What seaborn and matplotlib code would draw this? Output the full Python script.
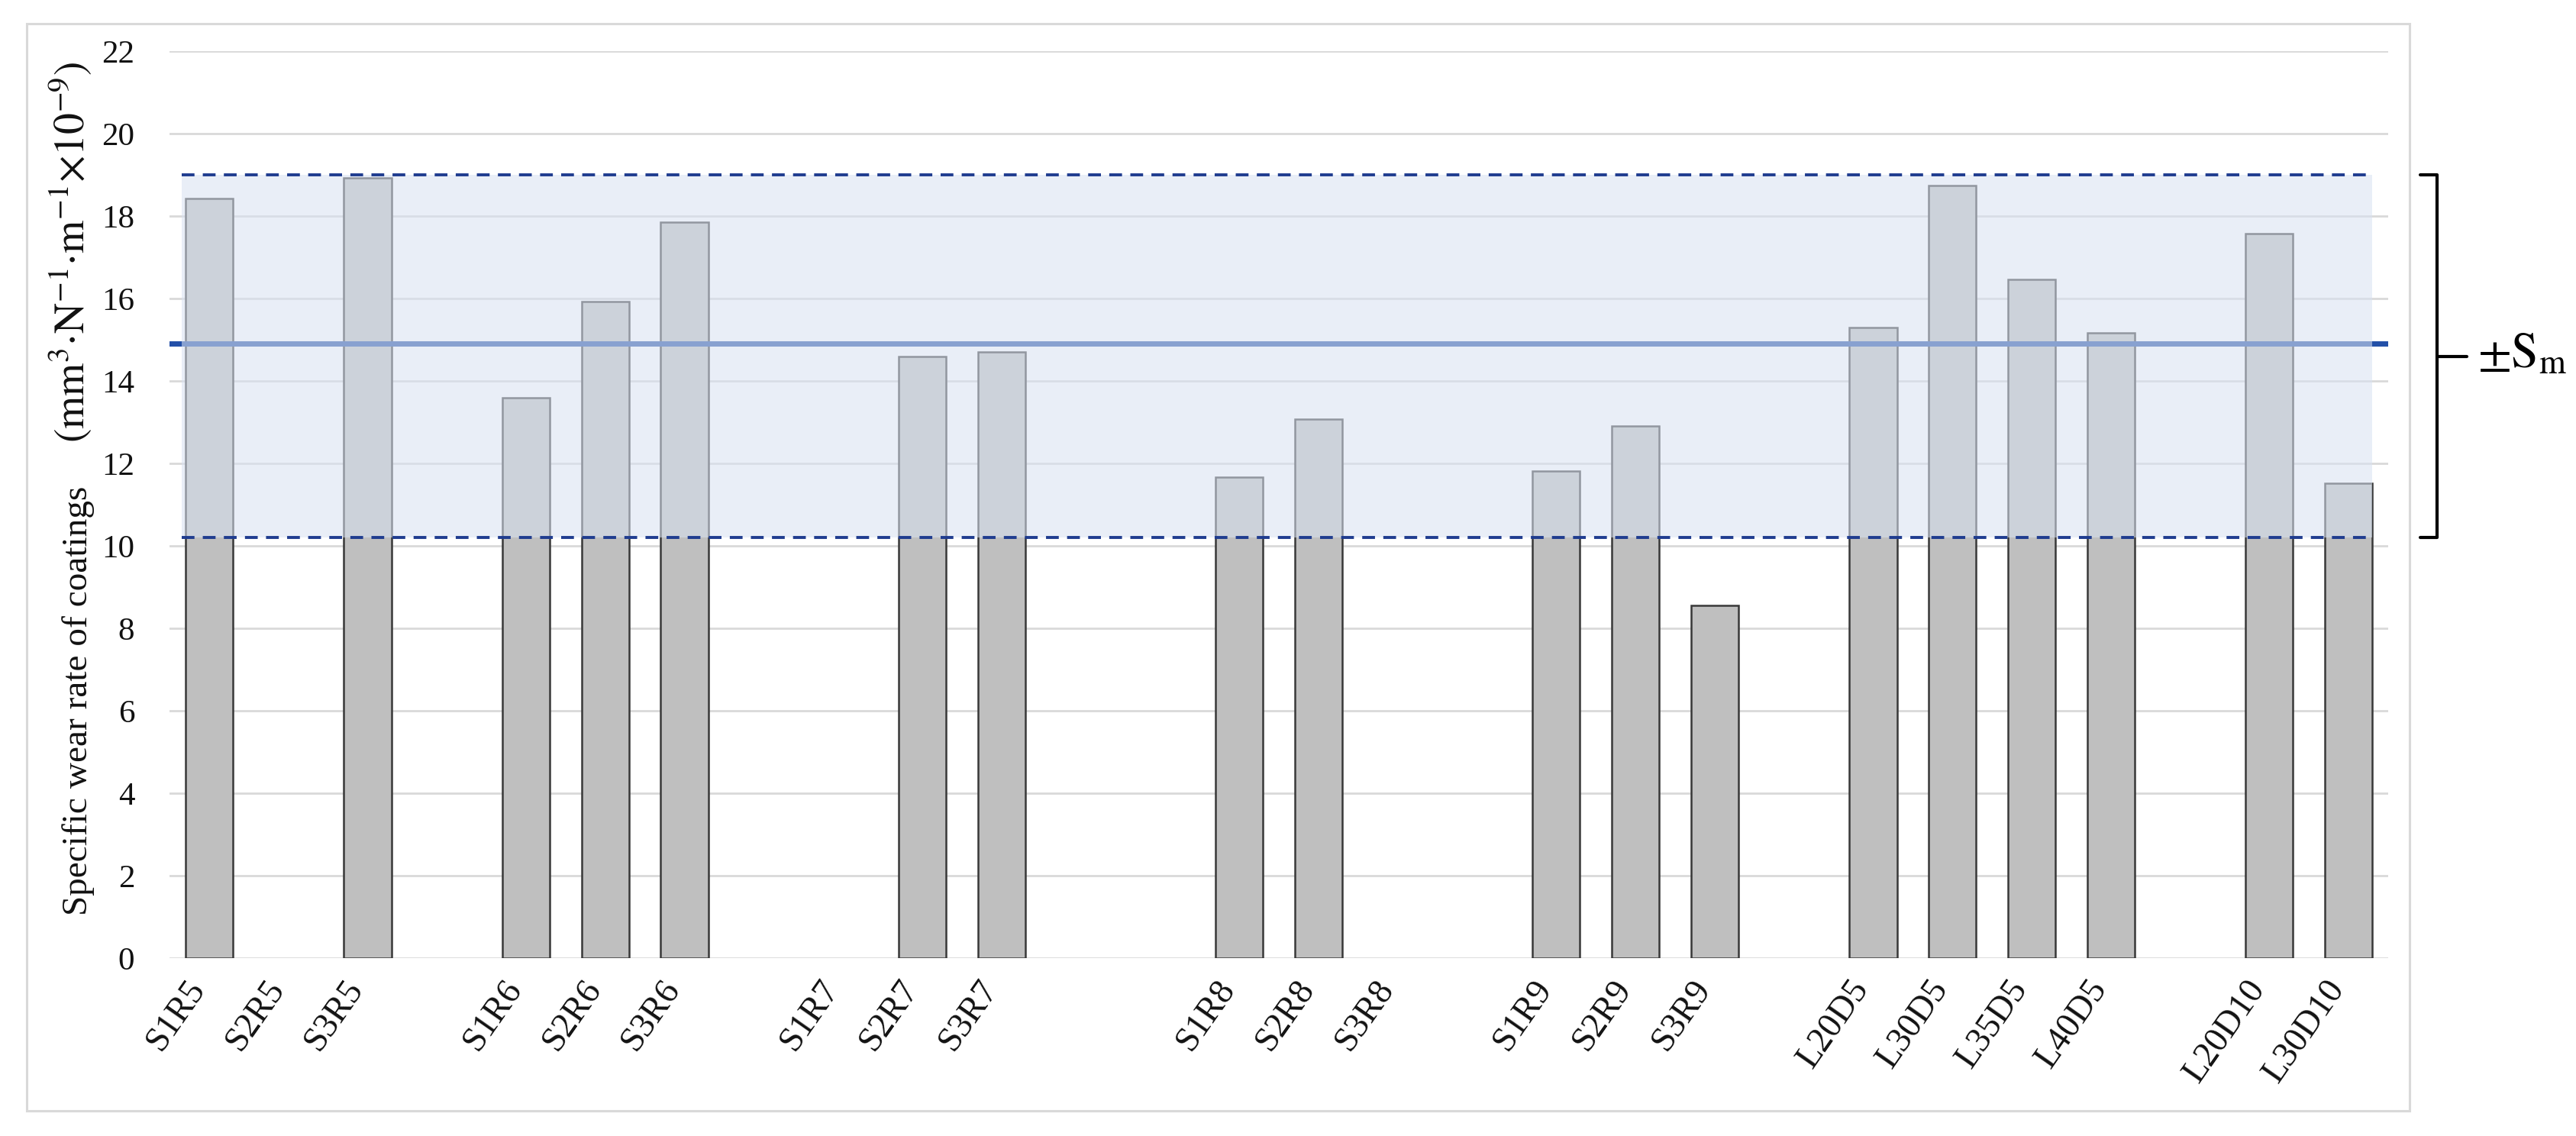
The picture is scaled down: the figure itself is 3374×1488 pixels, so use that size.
import numpy as np
import pandas as pd
import matplotlib
matplotlib.use("Agg")
import matplotlib.pyplot as plt
import seaborn as sns
from matplotlib.patches import Rectangle
from matplotlib.transforms import blended_transform_factory, ScaledTranslation

# ---------------- data ----------------
categories = ["S1R5", "S2R5", "S3R5", "",
              "S1R6", "S2R6", "S3R6", "",
              "S1R7", "S2R7", "S3R7", "", "",
              "S1R8", "S2R8", "S3R8", "",
              "S1R9", "S2R9", "S3R9", "",
              "L20D5", "L30D5", "L35D5", "L40D5", "",
              "L20D10", "L30D10"]
wear_rate = [18.43, np.nan, 18.92, np.nan,
             13.60, 15.92, 17.85, np.nan,
             np.nan, 14.60, 14.71, np.nan, np.nan,
             11.66, 13.08, np.nan, np.nan,
             11.82, 12.91, 8.55, np.nan,
             15.30, 18.74, 16.47, 15.16, np.nan,
             17.58, 11.52]
mean_value = 14.9
band_low = 10.2
band_high = 19.0
y_ticks = list(range(0, 23, 2))
y_label_main = "Specific wear rate of coatings"
y_label_unit = r"$\left(\mathrm{mm^{3}{\cdot}N^{-1}{\cdot}m^{-1}{\times}10^{-9}}\right)$"
bracket_label = r"$\pm\mathrm{S}_{\mathrm{m}}$"

# ---------------- style ----------------
sns.set_theme(style="white")
plt.rcParams["font.family"] = ["Liberation Serif", "DejaVu Serif"]
plt.rcParams["mathtext.fontset"] = "stix"

W, H = 3374, 1488
fig = plt.figure(figsize=(W / 100, H / 100), dpi=100)
left_px, right_px, top_px, bottom_px = 222, 3128, 67, 1255
ax = fig.add_axes([left_px / W, 1 - bottom_px / H,
                   (right_px - left_px) / W, (bottom_px - top_px) / H])

n = len(categories)
df = pd.DataFrame({"slot": np.arange(n), "value": wear_rate}).dropna()

sns.barplot(data=df, x="slot", y="value", order=list(range(n)),
            color="#bfbfbf", saturation=1, edgecolor="#383838",
            linewidth=1.8, width=0.6, errorbar=None, ax=ax, zorder=2)

ax.set_xlim(-0.5, n - 0.5)
ax.set_ylim(0, 22)
ax.set_yticks(y_ticks)
ax.set_yticklabels([str(t) for t in y_ticks])
ax.set_xticks(range(n))
ax.set_xticklabels(categories, rotation=55, ha="right", va="center",
                   rotation_mode="anchor")
ax.tick_params(axis="y", length=0, pad=33, labelsize=31, colors="#111111")
ax.tick_params(axis="x", length=0, pad=24, labelsize=33, colors="#111111")
shift = ScaledTranslation(-14 / 100, 0, fig.dpi_scale_trans)
for lab in ax.get_xticklabels():
    lab.set_transform(lab.get_transform() + shift)
ax.set_xlabel("")
ax.set_ylabel("")
for s in ax.spines.values():
    s.set_visible(False)
ax.yaxis.grid(True, color="#d9d9d9", linewidth=2.0)
ax.set_axisbelow(True)

# mean line (full width), shaded band over it, dashed limits
ax.axhline(mean_value, color="#2350a8", linewidth=5, zorder=3)
x0, x1 = -0.35, n - 1 + 0.3
ax.fill_between([x0, x1], band_low, band_high, color="#d8e1f1",
                alpha=0.56, linewidth=0, zorder=4)
for yv in (band_high, band_low):
    ax.plot([x0, x1], [yv, yv], color="#1f3c8f", linewidth=2.8,
            dashes=(4.3, 2.8), zorder=5, dash_capstyle="butt")

# bracket on the right
trans = blended_transform_factory(fig.transFigure, ax.transData)
xv, xh, xt = 3192 / W, 3170 / W, 3231 / W
mid = (band_high + band_low) / 2
ax.plot([xh, xv, xv, xh], [band_high, band_high, band_low, band_low],
        transform=trans, clip_on=False, color="black", linewidth=3,
        solid_joinstyle="round")
ax.plot([xv, xt], [mid, mid], transform=trans, clip_on=False,
        color="black", linewidth=3)
ax.text(3245 / W, mid, bracket_label, transform=trans, fontsize=46,
        ha="left", va="center", color="black")

# y label (two parts, the unit part set larger as in the original)
fig.text(103 / W, 1 - 1199 / H, y_label_main, rotation=90, ha="center",
         va="bottom", fontsize=34, color="#111111")
fig.text(92 / W, 1 - 580 / H, y_label_unit, rotation=90, ha="center",
         va="bottom", fontsize=40, color="#111111")

# outer chart border
fig.patches.append(Rectangle((35 / W, 1 - 1455 / H), (3156 - 35) / W,
                             (1455 - 31) / H, transform=fig.transFigure,
                             fill=False, edgecolor="#d9d9d9", linewidth=2.2))

fig.savefig("out.png", dpi=100)
